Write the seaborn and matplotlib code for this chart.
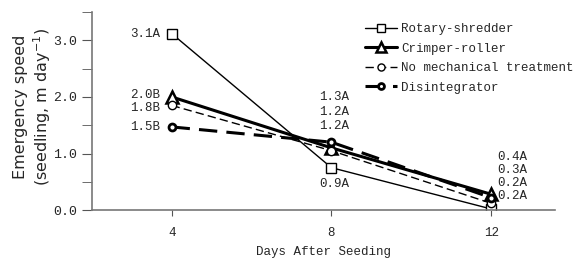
import pandas as pd
import matplotlib.pyplot as plt
import seaborn as sns

days = [4, 8, 12]
rotary = [3.12, 0.75, 0.02]
crimper = [2.0, 1.1, 0.28]
no_mech = [1.85, 1.05, 0.12]
disint = [1.47, 1.2, 0.22]

labels_4 = ['3.1A', '2.0B', '1.8B', '1.5B']
labels_8 = ['1.3A', '1.2A', '1.2A']
label_8_rot = '0.9A'
labels_12 = ['0.4A', '0.3A', '0.2A', '0.2A']

sns.set_style('ticks')
mono = 'Liberation Mono'

fig = plt.figure(figsize=(5.77, 2.61), dpi=100)
ax = fig.add_axes([0.159, 0.195, 0.803, 0.759])

series = [
    ('Rotary-shredder', rotary, '-', 1.0, 's', 7, 1.0),
    ('Crimper-roller', crimper, '-', 2.2, '^', 8, 1.8),
    ('No mechanical treatment', no_mech, (0, (6, 3)), 1.0, 'o', 6, 1.0),
    ('Disintegrator', disint, (0, (6, 3)), 2.2, 'o', 5, 2.0),
]
for name, vals, ls, lw, mk, ms, mew in series:
    df = pd.DataFrame({'day': days, 'v': vals})
    sns.lineplot(data=df, x='day', y='v', ax=ax, color='black', linestyle=ls,
                 linewidth=lw, marker=mk, markersize=ms, markerfacecolor='white',
                 markeredgecolor='black', markeredgewidth=mew, label=name)

ax.set_xlim(2, 13.6)
ax.set_ylim(0, 3.5)
ax.set_xticks(days)
ax.set_xticklabels([str(d) for d in days], family=mono, fontsize=9)
ax.set_yticks([0, 1, 2, 3])
ax.set_yticks([0.5, 1.5, 2.5, 3.5], minor=True)
ax.set_yticklabels(['0.0', '1.0', '2.0', '3.0'], family=mono, fontsize=9.5)
ax.tick_params(axis='both', which='both', color='#555555', direction='out')
ax.tick_params(axis='y', which='major', length=7)
ax.tick_params(axis='y', which='minor', length=7)
ax.tick_params(axis='x', length=4, pad=8)
for s in ['left', 'bottom']:
    ax.spines[s].set_color('#777777')
    ax.spines[s].set_linewidth(1.2)
sns.despine(ax=ax)

ax.set_xlabel('Days After Seeding', family=mono, fontsize=9, labelpad=5)
ax.set_ylabel('Emergency speed\n(seedling, m day$^{-1}$)', family='DejaVu Sans',
              fontsize=11.5, linespacing=1.2)
ax.yaxis.set_label_coords(-0.084, 0.52)

tf = dict(family=mono, fontsize=9)
ys4 = [3.12, 2.04, 1.8, 1.47]
for lab, y in zip(labels_4, ys4):
    ax.text(3.72, y, lab, ha='right', va='center', **tf)
for lab, y in zip(labels_8, [1.99, 1.74, 1.49]):
    ax.text(7.7, y, lab, ha='left', va='center', **tf)
ax.text(7.7, 0.46, label_8_rot, ha='left', va='center', **tf)
for lab, y in zip(labels_12, [0.94, 0.71, 0.48, 0.25]):
    ax.text(12.15, y, lab, ha='left', va='center', **tf)

leg = ax.legend(loc='upper left', bbox_to_anchor=(0.565, 1.0), frameon=False,
                prop={'family': mono, 'size': 9}, handlelength=2.6,
                labelspacing=0.6, handletextpad=0.3, markerscale=0.85)

fig.savefig('out.png', dpi=100)
